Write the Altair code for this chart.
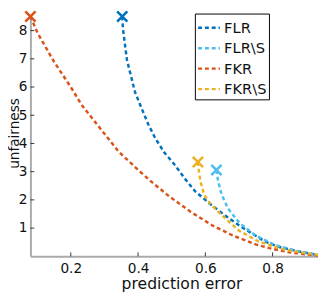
import altair as alt
import pandas as pd

series_names = ["FLR", "FLR\\S", "FKR", "FKR\\S"]
series_colors = ["#0072BD", "#4DBEEE", "#D95319", "#EDB120"]

flr_x = [0.353, 0.355, 0.367, 0.391, 0.408, 0.430, 0.451, 0.478, 0.510, 0.538, 0.570, 0.591, 0.620, 0.662, 0.710, 0.740, 0.778, 0.820, 0.874, 0.935]
flr_y = [8.5, 8.08, 6.96, 5.82, 5.32, 4.69, 4.19, 3.68, 3.23, 2.77, 2.30, 2.09, 1.80, 1.42, 1.02, 0.80, 0.52, 0.33, 0.18, 0.04]

flrs_x = [0.633, 0.638, 0.648, 0.667, 0.701, 0.749, 0.807, 0.874, 0.935]
flrs_y = [3.06, 2.66, 2.21, 1.70, 1.19, 0.74, 0.40, 0.18, 0.05]

fkr_x = [0.080, 0.101, 0.150, 0.200, 0.232, 0.295, 0.343, 0.396, 0.435, 0.493, 0.556, 0.620, 0.681, 0.750, 0.800, 0.850, 0.900, 0.935]
fkr_y = [8.5, 7.92, 6.90, 6.00, 5.37, 4.42, 3.70, 3.11, 2.69, 2.12, 1.58, 1.10, 0.74, 0.42, 0.26, 0.14, 0.07, 0.03]

fkrs_x = [0.578, 0.582, 0.587, 0.596, 0.614, 0.648, 0.700, 0.759, 0.836, 0.935]
fkrs_y = [3.34, 2.90, 2.60, 2.20, 1.87, 1.47, 0.91, 0.52, 0.23, 0.05]

x_ticks = [0.2, 0.4, 0.6, 0.8]
y_ticks = [1, 2, 3, 4, 5, 6, 7, 8]

rows = []
for name, xs, ys in [(series_names[0], flr_x, flr_y), (series_names[1], flrs_x, flrs_y),
                     (series_names[2], fkr_x, fkr_y), (series_names[3], fkrs_x, fkrs_y)]:
    for i, (a, b) in enumerate(zip(xs, ys)):
        rows.append({"method": name, "err": a, "unf": b, "idx": i})
df = pd.DataFrame(rows)
starts = df[df["idx"] == 0]

W, H = 295, 246
xs = alt.Scale(domain=[0.08, 0.935], nice=False, zero=False)
ys = alt.Scale(domain=[0, 8.5], nice=False, zero=True)

x_axis = alt.Axis(values=x_ticks, title="prediction error", format=".1f", labelOverlap=False,
                  titleX=155, titleY=33, titleBaseline="alphabetic")
y_axis = alt.Axis(values=y_ticks, title="unfairness", format="d", labelOverlap=False,
                  titleX=-12.5, titleY=119.5, titleBaseline="alphabetic", titleAngle=270,
                  titleFontSize=14)

lines = alt.Chart(df).mark_line(strokeWidth=2.5, strokeDash=[4, 3]).encode(
    x=alt.X("err:Q", scale=xs, axis=x_axis),
    y=alt.Y("unf:Q", scale=ys, axis=y_axis),
    color=alt.Color("method:N", scale=alt.Scale(domain=series_names, range=series_colors),
                    sort=series_names,
                    legend=alt.Legend(title=None, orient="none", legendX=168.7, legendY=-3,
                                      labelExpr="datum.label + '\u00a0\u00a0\u00a0'")),
    detail="method:N",
    order="idx:Q",
)

crosses = alt.Chart(starts).mark_point(
    shape="M-1,-1L1,1M-1,1L1,-1", size=110, strokeWidth=2.6, filled=False, opacity=1
).encode(
    x=alt.X("err:Q", scale=xs, axis=x_axis),
    y=alt.Y("unf:Q", scale=ys, axis=y_axis),
    stroke=alt.Stroke("method:N", scale=alt.Scale(domain=series_names, range=series_colors),
                      legend=None),
)

xt = alt.Chart(pd.DataFrame({"v": x_ticks})).mark_rule(color="#333333", strokeWidth=1).encode(
    x=alt.X("v:Q", scale=xs, axis=x_axis), y=alt.value(H), y2=alt.value(H - 4))
yt = alt.Chart(pd.DataFrame({"v": y_ticks})).mark_rule(color="#333333", strokeWidth=1).encode(
    y=alt.Y("v:Q", scale=ys, axis=y_axis), x=alt.value(0), x2=alt.value(4))

chart = alt.layer(xt, yt, lines, crosses).resolve_scale(stroke="independent").properties(
    width=W, height=H,
    autosize=alt.AutoSizeParams(type="none"),
    padding={"left": 23, "top": 5, "right": 0, "bottom": 37},
).configure(font="DejaVu Sans").configure_view(stroke=None).configure_axis(
    grid=False, ticks=False, tickSize=0, labelOverlap=False,
    domainColor="#aaaaaa", domainWidth=2,
    labelFontSize=14, labelColor="#111111", labelFont="DejaVu Sans",
    titleFontSize=16, titleColor="#111111", titleFont="DejaVu Sans", titleFontWeight="normal",
).configure_axisX(labelPadding=6).configure_axisY(labelPadding=3.5).configure_legend(
    padding=2, strokeColor="black", fillColor="white", strokeWidth=1, cornerRadius=0,
    labelFontSize=15, labelFont="DejaVu Sans", labelColor="#111111",
    symbolType="stroke", symbolSize=500, symbolStrokeWidth=2.5, symbolDash=[4, 3],
    rowPadding=0, labelOffset=3,
)

chart.save("out.html", embed_options={"renderer": "svg", "actions": False})
